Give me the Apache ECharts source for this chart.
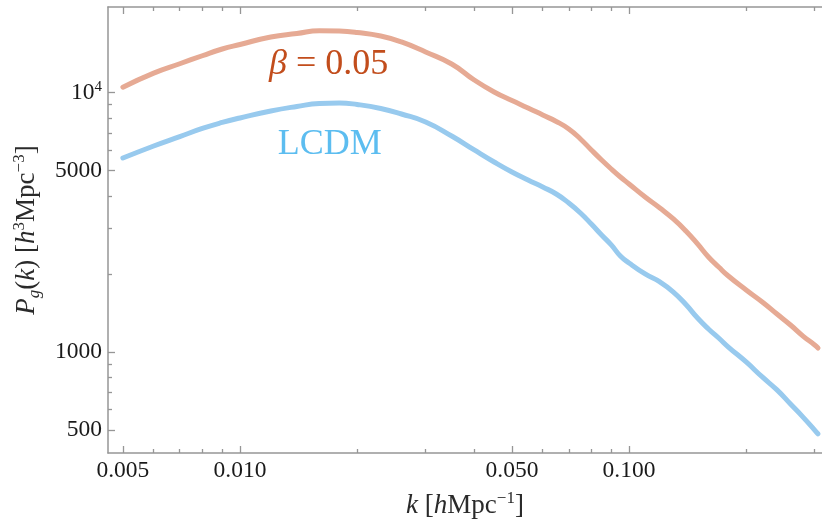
<!DOCTYPE html>
<html>
<head>
<meta charset="utf-8">
<script src="https://cdn.jsdelivr.net/npm/echarts@6/dist/echarts.min.js"></script>
<style>
html,body{margin:0;padding:0;background:#fff;}
#chart{width:822px;height:525px;}
</style>
</head>
<body>
<div id="chart"></div>
<script>
// ---- data ----
const kValues = [0.005,0.006,0.007,0.008,0.009,0.010,0.012,0.014,0.016,0.018,0.020,0.023,0.026,0.030,0.035,0.040,0.045,0.050,0.055,0.060,0.065,0.070,0.075,0.080,0.085,0.090,0.095,0.100,0.110,0.120,0.130,0.140,0.150,0.160,0.170,0.180,0.200,0.220,0.240,0.260,0.280,0.300,0.306];
const betaP = [10500,11900,12930,13880,14740,15340,16400,16910,17340,17290,17070,16540,15690,14350,12900,11190,10060,9330,8730,8200,7745,7245,6630,6013,5500,5078,4730,4445,3960,3592,3258,2928,2610,2325,2127,1963,1734,1559,1401,1271,1152,1064,1036];
const lcdmP = [5598,6230,6772,7277,7676,7990,8500,8846,9086,9127,9006,8692,8275,7710,6807,6013,5404,4945,4606,4328,4067,3754,3436,3116,2826,2587,2346,2204,1999,1862,1703,1525,1352,1227,1132,1045,915,801,714,630,561,500,483];

const seriesNames = ['β = 0.05', 'LCDM'];
const labelTexts = ['{i|β} = 0.05', 'LCDM'];
const labelK = [0.0169, 0.0170];
const labelP = [12790, 6290];

const xMajorTicks = [0.005, 0.010, 0.050, 0.100];
const xMajorLabels = ['0.005', '0.010', '0.050', '0.100'];
const xMinorTicks = [0.006,0.007,0.008,0.009,0.02,0.03,0.04,0.06,0.07,0.08,0.09,0.2,0.3];
const yMajorTicks = [500, 1000, 5000, 10000];
const yMajorLabels = ['{n|500}', '{n|1000}', '{n|5000}', '{n|10}{sup|4}'];
const yMinorTicks = [600,700,800,900,2000,3000,4000,6000,7000,8000,9000];

const kRange = [0.004578, 0.3133];
const pRange = [407.8, 21400];

// ---- build ----
const L = Math.log10;
const lineBeta = kValues.map((k, i) => [L(k), L(betaP[i])]);
const lineLcdm = kValues.map((k, i) => [L(k), L(lcdmP[i])]);

function findLabel(v, ticks, labels) {
  for (let i = 0; i < ticks.length; i++) {
    if (Math.abs(L(ticks[i]) - v) < 1e-6) return labels[i];
  }
  return '';
}

const axisGray = '#969696';
const font = 'Liberation Serif';
const tickColor = '#1a1a1a';
const tickText = {fontFamily: font, fontSize: 23.5, color: tickColor};

function xAxisDef(pos, ticks, len, withLabels, showLine) {
  return {
    type: 'value', position: pos, min: L(kRange[0]), max: L(kRange[1]),
    axisLine: {show: showLine, onZero: false, lineStyle: {color: axisGray, width: 1.5}},
    axisTick: {show: true, inside: true, length: len, customValues: ticks.map(L), lineStyle: {color: axisGray, width: 1.3}},
    axisLabel: withLabels ? {show: true, customValues: ticks.map(L), margin: 6, ...tickText,
      formatter: v => findLabel(v, xMajorTicks, xMajorLabels)} : {show: false},
    splitLine: {show: false}
  };
}
function yAxisDef(ticks, len, withLabels, showLine) {
  return {
    type: 'value', position: 'left', min: L(pRange[0]), max: L(pRange[1]),
    axisLine: {show: showLine, onZero: false, lineStyle: {color: axisGray, width: 1.5}},
    axisTick: {show: true, inside: true, length: len, customValues: ticks.map(L), lineStyle: {color: axisGray, width: 1.3}},
    axisLabel: withLabels ? {show: true, customValues: ticks.map(L), margin: 6, ...tickText,
      formatter: v => findLabel(v, yMajorTicks, yMajorLabels),
      rich: {n: {fontFamily: font, fontSize: 23.5, color: tickColor, lineHeight: 26},
             sup: {fontFamily: font, fontSize: 15, color: tickColor, verticalAlign: 'top', lineHeight: 14}}} : {show: false},
    splitLine: {show: false}
  };
}

const titleColor = '#2a2a2a';
const titleRich = {
  i: {fontFamily: font, fontStyle: 'italic', fontSize: 27, color: titleColor, lineHeight: 32},
  n: {fontFamily: font, fontSize: 27, color: titleColor, lineHeight: 32},
  sup: {fontFamily: font, fontSize: 17, color: titleColor, verticalAlign: 'top', lineHeight: 17},
  sub: {fontFamily: font, fontStyle: 'italic', fontSize: 17, color: titleColor, verticalAlign: 'bottom', lineHeight: 17}
};

const xAxes = [
  xAxisDef('bottom', xMajorTicks, 7, true, true),
  xAxisDef('bottom', xMinorTicks, 4, false, false),
  xAxisDef('top', xMajorTicks, 7, false, true),
  xAxisDef('top', xMinorTicks, 4, false, false)
];
xAxes[0].name = '{i|k}{n| [}{i|h}{n|Mpc}{sup|−1}{n|]}';
xAxes[0].nameLocation = 'middle';
xAxes[0].nameGap = 37;
xAxes[0].nameTextStyle = {rich: titleRich};

const yAxes = [
  yAxisDef(yMajorTicks, 7, true, true),
  yAxisDef(yMinorTicks, 4, false, false)
];
yAxes[0].name = '{i|P}{sub|g}{n|(}{i|k}{n|) [}{i|h}{sup|3}{n|Mpc}{sup|−3}{n|]}';
yAxes[0].nameLocation = 'middle';
yAxes[0].nameRotate = 90;
yAxes[0].nameGap = 65;
yAxes[0].nameTextStyle = {rich: titleRich};

const lineColors = ['#e6aa94', '#98caee'];
const textColors = ['#c24d1c', '#5cbdf0'];

function makeSeries(idx, data) {
  return {
    type: 'line', name: seriesNames[idx], data: data, xAxisIndex: 0, yAxisIndex: 0,
    showSymbol: false, smooth: 0.5, silent: true,
    lineStyle: {color: lineColors[idx], width: 5, cap: 'round', join: 'round'},
    markPoint: {
      symbol: 'circle', symbolSize: 0, silent: true,
      data: [{coord: [L(labelK[idx]), L(labelP[idx])], value: seriesNames[idx]}],
      label: {show: true, position: 'inside', formatter: labelTexts[idx],
        fontFamily: font, fontSize: 36, color: textColors[idx],
        rich: {i: {fontFamily: font, fontStyle: 'italic', fontSize: 36, color: textColors[idx]}}}
    }
  };
}

const chart = echarts.init(document.getElementById('chart'), null, {renderer: 'canvas'});
chart.setOption({
  animation: false,
  backgroundColor: '#ffffff',
  grid: {left: 108, right: 0, top: 7, bottom: 72, containLabel: false, outerBoundsMode: 'none'},
  xAxis: xAxes,
  yAxis: yAxes,
  series: [makeSeries(0, lineBeta), makeSeries(1, lineLcdm)]
});
</script>
</body>
</html>
